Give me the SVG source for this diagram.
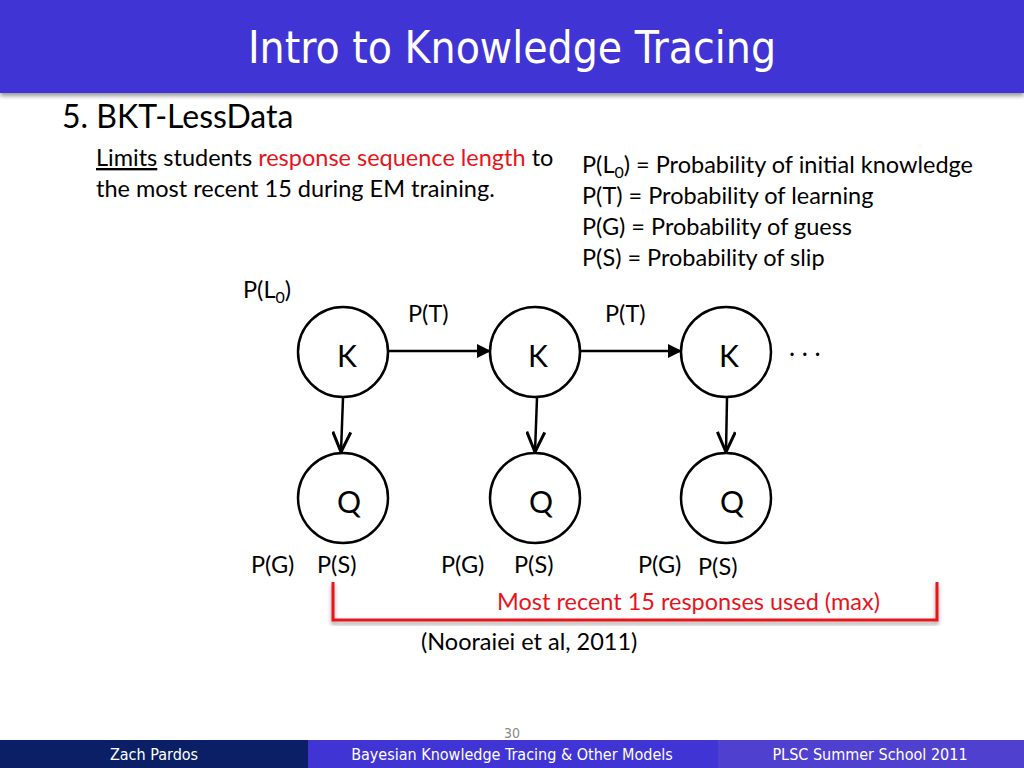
<svg xmlns="http://www.w3.org/2000/svg" width="1024" height="768" viewBox="0 0 1024 768">
<defs>
<marker id="tri" markerWidth="14" markerHeight="14" refX="13" refY="7" orient="auto" markerUnits="userSpaceOnUse"><path d="M0,0 L14,7 L0,14 Z" fill="#000"/></marker>
<marker id="chev" markerWidth="24" markerHeight="20" refX="22" refY="10" orient="auto" markerUnits="userSpaceOnUse"><path d="M2,1 L22,10 L2,19" fill="none" stroke="#000" stroke-width="3"/></marker>
<filter id="sh" x="-5%" y="-5%" width="110%" height="120%"><feDropShadow dx="0" dy="3" stdDeviation="2" flood-opacity="0.4"/></filter>
</defs>
<style>
text{font-family:Lato,"Open Sans",sans-serif;fill:#000}
.t{font-size:23.5px}
.n{font-size:30px}
.c{fill:#fff;stroke:#000;stroke-width:2.5}
.f{font-size:16px;fill:#fff;font-family:"DejaVu Sans Condensed","DejaVu Sans",sans-serif}
</style>
<rect width="1024" height="768" fill="#fff"/>
<rect x="0" y="0" width="1024" height="93" fill="#4034d4" filter="url(#sh)"/>
<text x="512" y="63" text-anchor="middle" style="font-family:'DejaVu Sans Condensed','DejaVu Sans',sans-serif;font-size:44px;fill:#fff">Intro to Knowledge Tracing</text>
<text x="62" y="128" style="font-size:32px">5. BKT-LessData</text>
<text x="96" y="166" class="t"><tspan text-decoration="underline">Limits</tspan> students <tspan style="fill:#e8141c">response sequence length</tspan> to</text>
<text x="96" y="197" class="t">the most recent 15 during EM training.</text>
<text x="582" y="173" class="t">P(L<tspan font-size="16" dy="5">0</tspan><tspan dy="-5">) = Probability of initial knowledge</tspan></text>
<text x="582" y="204" class="t">P(T) =  Probability of learning</text>
<text x="582" y="235" class="t">P(G) = Probability of guess</text>
<text x="582" y="266" class="t">P(S) = Probability of slip</text>
<text x="243" y="298" class="t">P(L<tspan font-size="16" dy="5">0</tspan><tspan dy="-5">)</tspan></text>
<text x="408" y="322" class="t">P(T)</text>
<text x="605" y="322" class="t">P(T)</text>
<text x="789" y="356" style="font-size:26px">. . .</text>
<g id="connectors" stroke="#000" stroke-width="2.5" fill="none">
<line x1="389" y1="351" x2="490" y2="351" marker-end="url(#tri)"/>
<line x1="580" y1="351" x2="681" y2="351" marker-end="url(#tri)"/>
<line x1="343" y1="398" x2="341" y2="452" marker-end="url(#chev)"/>
<line x1="537" y1="398" x2="535" y2="452" marker-end="url(#chev)"/>
<line x1="727" y1="398" x2="726" y2="452" marker-end="url(#chev)"/>
</g>
<g id="k1"><circle class="c" cx="343" cy="352" r="45"/><text x="347" y="367" class="n" text-anchor="middle">K</text></g>
<g id="k2"><circle class="c" cx="535" cy="352" r="45"/><text x="538" y="367" class="n" text-anchor="middle">K</text></g>
<g id="k3"><circle class="c" cx="726" cy="352" r="45"/><text x="729" y="367" class="n" text-anchor="middle">K</text></g>
<g id="q1"><circle class="c" cx="343" cy="498" r="45"/><text x="349" y="513" class="n" text-anchor="middle">Q</text></g>
<g id="q2"><circle class="c" cx="535" cy="498" r="45"/><text x="541" y="513" class="n" text-anchor="middle">Q</text></g>
<g id="q3"><circle class="c" cx="726" cy="498" r="45"/><text x="732" y="513" class="n" text-anchor="middle">Q</text></g>
<text x="251" y="573" class="t">P(G)</text><text x="317" y="573" class="t">P(S)</text>
<text x="441" y="573" class="t">P(G)</text><text x="514" y="573" class="t">P(S)</text>
<text x="638" y="573" class="t">P(G)</text><text x="698" y="575" class="t">P(S)</text>
<path d="M333,582 V620 H937 V582" fill="none" stroke="#e8141c" stroke-width="3" filter="url(#sh)"/>
<text x="497" y="610" class="t" style="fill:#e8141c">Most recent 15 responses used (max)</text>
<text x="421" y="650" class="t">(Nooraiei et al, 2011)</text>
<text x="512" y="738" text-anchor="middle" style="font-family:'DejaVu Sans Condensed',sans-serif;font-size:14px;fill:#888">30</text>
<rect x="0" y="740" width="308" height="28" fill="#0a1f66"/>
<rect x="308" y="740" width="410" height="28" fill="#4034d4"/>
<rect x="718" y="740" width="306" height="28" fill="#5040d0"/>
<text x="154" y="760" class="f" text-anchor="middle">Zach Pardos</text>
<text x="512" y="760" class="f" text-anchor="middle">Bayesian Knowledge Tracing &amp; Other Models</text>
<text x="870" y="760" class="f" text-anchor="middle">PLSC Summer School 2011</text>
</svg>
